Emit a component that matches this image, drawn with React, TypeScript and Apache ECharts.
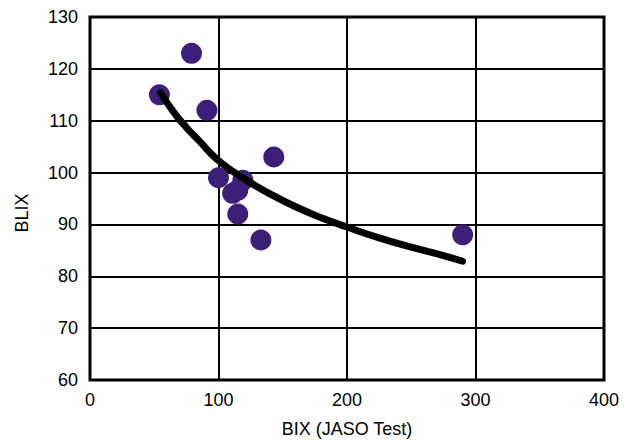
import React, { useEffect, useRef } from "react";
import * as echarts from "echarts";

const pointsX = [54, 79, 91, 100, 111, 115, 119, 115, 133, 143, 290];
const pointsY = [115, 123, 112, 99, 96, 96.6, 98.5, 92, 87, 103, 88];

const trendX = [55, 65, 75, 85, 100, 120, 140, 160, 180, 200, 225, 250, 275, 290];
const trendY = [115.4, 111.7, 108.7, 106.1, 102.3, 98.8, 95.9, 93.4, 91.3, 89.5, 87.4, 85.6, 84.0, 82.9];

const xTicks = { min: 0, max: 400, interval: 100 };
const yTicks = { min: 60, max: 130, interval: 10 };

const xName = "BIX (JASO Test)";
const yName = "BLIX";

const FONT = "'Liberation Sans', Arial, sans-serif";

export default function App() {
  const ref = useRef<HTMLDivElement>(null);
  useEffect(() => {
    if (!ref.current) return;
    const chart = echarts.init(ref.current, undefined, { renderer: "svg" });
    chart.setOption({
      animation: false,
      backgroundColor: "#ffffff",
      grid: {
        left: 90,
        right: 26,
        top: 17,
        bottom: 61,
        outerBoundsMode: "none",
        containLabel: false,
        show: true,
        borderColor: "#000",
        borderWidth: 3,
        backgroundColor: "transparent",
      },
      xAxis: {
        type: "value",
        min: xTicks.min,
        max: xTicks.max,
        interval: xTicks.interval,
        name: xName,
        nameLocation: "middle",
        nameGap: 40,
        nameTextStyle: { color: "#000", fontSize: 18, fontFamily: FONT },
        axisLine: { show: false },
        axisTick: { show: false },
        axisLabel: { color: "#000", fontSize: 18, fontFamily: FONT, margin: 11 },
        splitLine: { show: true, lineStyle: { color: "#000", width: 2 } },
      },
      yAxis: {
        type: "value",
        min: yTicks.min,
        max: yTicks.max,
        interval: yTicks.interval,
        axisLine: { show: false },
        axisTick: { show: false },
        axisLabel: { color: "#000", fontSize: 18, fontFamily: FONT, margin: 12 },
        splitLine: { show: true, lineStyle: { color: "#000", width: 2 } },
      },
      graphic: [
        {
          type: "text",
          x: 22,
          y: 213,
          rotation: Math.PI / 2,
          style: {
            text: yName,
            fill: "#000",
            fontSize: 18,
            fontFamily: FONT,
            align: "center",
            verticalAlign: "middle",
          },
        },
      ],
      series: [
        {
          type: "scatter",
          data: pointsX.map((x, i) => [x, pointsY[i]]),
          symbol: "circle",
          symbolSize: 21,
          itemStyle: { color: "#3b1f78", opacity: 1 },
          z: 2,
        },
        {
          type: "line",
          data: trendX.map((x, i) => [x, trendY[i]]),
          smooth: true,
          showSymbol: false,
          symbol: "none",
          lineStyle: { color: "#000", width: 7, cap: "round", join: "round" },
          z: 3,
        },
      ],
    });
    return () => chart.dispose();
  }, []);
  return <div ref={ref} style={{ width: 630, height: 441, position: "absolute", left: 0, top: 0 }} />;
}
